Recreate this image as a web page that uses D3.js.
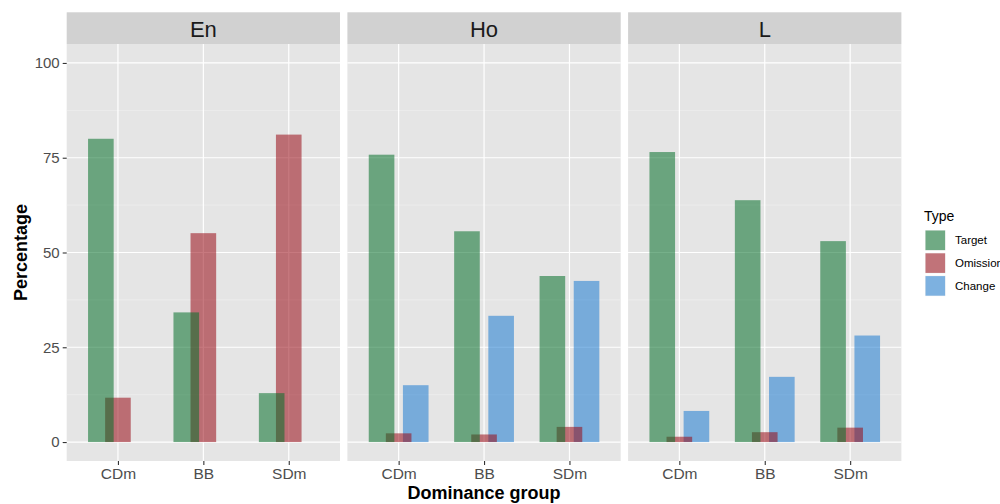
<!DOCTYPE html>
<html>
<head>
<meta charset="utf-8">
<script src="https://cdn.jsdelivr.net/npm/d3@7"></script>
<style>
  html, body { margin: 0; padding: 0; background: #fff; }
  svg { display: block; font-family: "Liberation Sans", Arial, Helvetica, sans-serif; }
</style>
</head>
<body>
<svg id="chart" width="1000" height="504"></svg>
<script>
// ---- data ----
const facets = ["En", "Ho", "L"];
const groups = ["CDm", "BB", "SDm"];
const types = ["Target", "Omission", "Change"];
const yTicks = [0, 25, 50, 75, 100];

// values per facet, per group (order of groups)
const targetEn = [80.0, 34.2, 12.9];
const omissionEn = [11.7, 55.1, 81.1];
const changeEn = [0, 0, 0];

const targetHo = [75.8, 55.6, 43.8];
const omissionHo = [2.3, 2.0, 4.0];
const changeHo = [15.0, 33.3, 42.5];

const targetL = [76.5, 63.8, 53.0];
const omissionL = [1.4, 2.6, 3.8];
const changeL = [8.2, 17.2, 28.1];

const seriesByFacet = {
  En: { Target: targetEn, Omission: omissionEn, Change: changeEn },
  Ho: { Target: targetHo, Omission: omissionHo, Change: changeHo },
  L:  { Target: targetL,  Omission: omissionL,  Change: changeL }
};

// ---- style ----
const colors = { Target: "rgb(5,111,42)", Omission: "rgb(153,11,22)", Change: "rgb(29,124,209)" };
const barAlpha = 0.55;
const dodge = { Target: -0.2, Omission: 0, Change: 0.2 };
const barWidthFrac = 0.3;
const drawOrder = ["Change", "Omission", "Target"];

const svg = d3.select("#chart");

const panelTop = 44, panelBottom = 461;
const stripTop = 12.3;
const panelW = 273.3, panelGap = 7.4, firstLeft = 66.7;

const y = d3.scaleLinear().domain([-5, 105]).range([panelBottom, panelTop]);

facets.forEach((f, fi) => {
  const left = firstLeft + fi * (panelW + panelGap);
  const x = d3.scalePoint().domain(groups).range([left, left + panelW]).padding(0.6);
  const step = x.step();
  const g = svg.append("g");

  // strip
  g.append("rect").attr("x", left).attr("y", stripTop).attr("width", panelW)
    .attr("height", panelTop - stripTop).attr("fill", "#D1D1D1");
  g.append("text").attr("x", left + panelW / 2).attr("y", 36.5)
    .attr("text-anchor", "middle").attr("font-size", 22).attr("fill", "#1A1A1A").text(f);

  // panel background
  g.append("rect").attr("x", left).attr("y", panelTop).attr("width", panelW)
    .attr("height", panelBottom - panelTop).attr("fill", "#E5E5E5");

  // minor gridlines
  const minor = [12.5, 37.5, 62.5, 87.5];
  g.selectAll(".minor").data(minor).enter().append("line")
    .attr("x1", left).attr("x2", left + panelW)
    .attr("y1", d => y(d)).attr("y2", d => y(d))
    .attr("stroke", "#F2F2F2").attr("stroke-width", 0.6);
  // major gridlines
  g.selectAll(".majy").data(yTicks).enter().append("line")
    .attr("x1", left).attr("x2", left + panelW)
    .attr("y1", d => y(d)).attr("y2", d => y(d))
    .attr("stroke", "#FFFFFF").attr("stroke-width", 1.2);
  g.selectAll(".majx").data(groups).enter().append("line")
    .attr("x1", d => x(d)).attr("x2", d => x(d))
    .attr("y1", panelTop).attr("y2", panelBottom)
    .attr("stroke", "#FFFFFF").attr("stroke-width", 1.2);

  // bars
  drawOrder.forEach(t => {
    const vals = seriesByFacet[f][t];
    g.selectAll(".bar-" + t).data(groups.map((grp, i) => ({ grp, v: vals[i] })))
      .enter().append("rect")
      .filter(d => d.v > 0)
      .attr("x", d => x(d.grp) + (dodge[t] - barWidthFrac / 2) * step)
      .attr("width", barWidthFrac * step)
      .attr("y", d => y(d.v))
      .attr("height", d => y(0) - y(d.v))
      .attr("fill", colors[t]).attr("fill-opacity", barAlpha);
  });

  // x axis
  const xAxis = d3.axisBottom(x).tickSize(4).tickPadding(3);
  const ax = g.append("g").attr("transform", `translate(0,${panelBottom})`).call(xAxis);
  ax.select(".domain").remove();
  ax.selectAll(".tick line").attr("stroke", "#333333").attr("stroke-width", 1.1);
  ax.selectAll(".tick text").attr("font-size", 15.5).attr("fill", "#4D4D4D")
    .attr("font-family", "Liberation Sans, Arial, sans-serif").attr("dy", "0").attr("y", 18);

  if (fi === 0) {
    const yAxis = d3.axisLeft(y).tickValues(yTicks).tickSize(4).tickPadding(3);
    const ay = g.append("g").attr("transform", `translate(${left},0)`).call(yAxis);
    ay.select(".domain").remove();
    ay.selectAll(".tick line").attr("stroke", "#333333").attr("stroke-width", 1.1);
    ay.selectAll(".tick text").attr("font-size", 15).attr("fill", "#4D4D4D")
      .attr("font-family", "Liberation Sans, Arial, sans-serif");
  }
});

// axis titles
const panelsRight = firstLeft + 3 * panelW + 2 * panelGap;
svg.append("text").attr("x", (firstLeft + panelsRight) / 2).attr("y", 499)
  .attr("text-anchor", "middle").attr("font-size", 18).attr("font-weight", "bold")
  .attr("fill", "#000").text("Dominance group");
svg.append("text").attr("transform", `translate(26.5,${(panelTop + panelBottom) / 2}) rotate(-90)`)
  .attr("text-anchor", "middle").attr("font-size", 18).attr("font-weight", "bold")
  .attr("fill", "#000").text("Percentage");

// legend
const lg = svg.append("g");
lg.append("text").attr("x", 924).attr("y", 220.5).attr("font-size", 14).attr("fill", "#000").text("Type");
types.forEach((t, i) => {
  const ky = 230 + i * 22.8;
  lg.append("rect").attr("x", 925).attr("y", ky).attr("width", 20.6).attr("height", 20.6).attr("fill", "#F2F2F2");
  lg.append("rect").attr("x", 925.5).attr("y", ky + 0.5).attr("width", 19.6).attr("height", 19.6)
    .attr("fill", colors[t]).attr("fill-opacity", barAlpha);
  lg.append("text").attr("x", 955).attr("y", ky + 10.3).attr("dy", "0.35em")
    .attr("font-size", 11.5).attr("fill", "#000").text(t);
});
</script>
</body>
</html>
